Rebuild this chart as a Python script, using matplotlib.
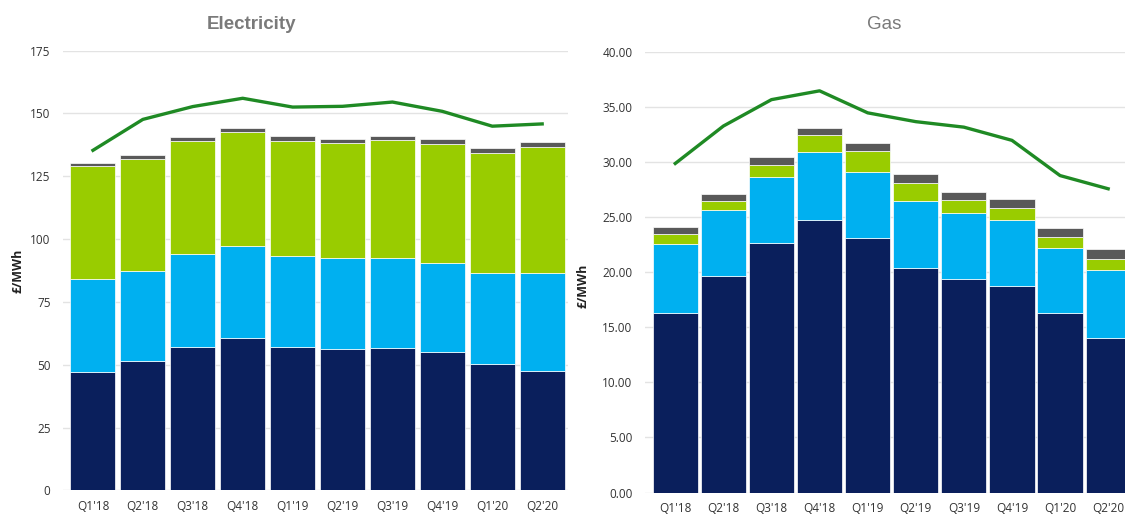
import matplotlib
matplotlib.use("Agg")
import matplotlib.pyplot as plt
import numpy as np

quarters = ["Q1'18", "Q2'18", "Q3'18", "Q4'18", "Q1'19", "Q2'19", "Q3'19", "Q4'19", "Q1'20", "Q2'20"]

# electricity, £/MWh, stacked segments bottom to top
elec_navy = [47.0, 51.4, 57.0, 60.7, 57.0, 56.1, 56.6, 55.2, 50.4, 47.5]
elec_blue = [37.0, 35.8, 36.9, 36.6, 36.3, 36.2, 35.7, 35.4, 36.0, 38.9]
elec_green = [44.9, 44.7, 45.3, 45.1, 45.8, 46.1, 47.2, 47.3, 47.8, 50.4]
elec_grey = [1.4, 1.7, 1.3, 1.9, 1.7, 1.5, 1.3, 2.0, 2.0, 1.8]
elec_line = [135.3, 147.6, 152.7, 156.0, 152.5, 152.8, 154.5, 150.8, 144.9, 145.8]
elec_ticks = [0, 25, 50, 75, 100, 125, 150, 175]

# gas, £/MWh
gas_navy = [16.3, 19.7, 22.7, 24.8, 23.1, 20.4, 19.4, 18.8, 16.3, 14.0]
gas_blue = [6.3, 6.0, 6.0, 6.1, 6.0, 6.05, 6.0, 6.0, 5.9, 6.2]
gas_green = [0.9, 0.8, 1.1, 1.6, 1.95, 1.65, 1.2, 1.05, 1.0, 1.0]
gas_grey = [0.6, 0.6, 0.7, 0.6, 0.75, 0.8, 0.7, 0.85, 0.8, 0.9]
gas_line = [29.9, 33.3, 35.7, 36.5, 34.5, 33.7, 33.2, 32.0, 28.8, 27.6]
gas_ticks = [0, 5, 10, 15, 20, 25, 30, 35, 40]

colors = ["#0a1f5c", "#00b0f0", "#99cc00", "#595959"]
line_color = "#1f8a24"
tick_font = ["Open Sans", "DejaVu Sans"]

fig = plt.figure(figsize=(11.25, 5.18), dpi=100)
ax1 = fig.add_axes([0.056, 0.0531, 0.449, 0.8494])
ax2 = fig.add_axes([0.5733, 0.0492, 0.4267, 0.8498])


def draw(ax, segs, line, ticks, fmt, xlim, width):
    x = np.arange(len(quarters))
    bottom = np.zeros(len(quarters))
    for seg, c in zip(segs, colors):
        ax.bar(x, seg, width=width, bottom=bottom, color=c, edgecolor="white",
               linewidth=0.5, zorder=2)
        bottom += np.array(seg)
    ax.plot(x, line, color=line_color, linewidth=2.4, zorder=3)
    ax.set_xlim(*xlim)
    ax.set_ylim(ticks[0], ticks[-1])
    ax.set_yticks(ticks)
    ax.set_yticklabels([fmt.format(t) for t in ticks], family=tick_font,
                       fontsize=8.5, color="#333333")
    ax.set_xticks(x)
    ax.set_xticklabels(quarters, family=tick_font, fontsize=8.5, color="#333333")
    ax.tick_params(length=0)
    ax.tick_params(axis="y", pad=9)
    ax.tick_params(axis="x", pad=7)
    ax.grid(axis="y", color="#e3e3e3", linewidth=1, zorder=0)
    ax.set_axisbelow(True)
    for s in ax.spines.values():
        s.set_visible(False)
    ax.set_ylabel("£/MWh", family=tick_font, fontsize=9, fontweight="bold", color="#222222")


draw(ax1, [elec_navy, elec_blue, elec_green, elec_grey], elec_line, elec_ticks, "{:d}",
     (-0.6, 9.52), 0.9)
draw(ax2, [gas_navy, gas_blue, gas_green, gas_grey], gas_line, gas_ticks, "{:.2f}",
     (-0.63, 9.35), 0.94)

ax1.yaxis.set_label_coords(-0.077, 0.5)
ax2.yaxis.set_label_coords(-0.115, 0.47)

title_font = ["Liberation Sans", "DejaVu Sans"]
fig.text(0.224, 0.953, "Electricity", family=title_font, fontsize=13.5, fontweight="bold",
         color="#7a7a7a", ha="center", va="center")
fig.text(0.786, 0.953, "Gas", family=title_font, fontsize=13.5,
         color="#7a7a7a", ha="center", va="center")

fig.savefig("out.png", dpi=100)
